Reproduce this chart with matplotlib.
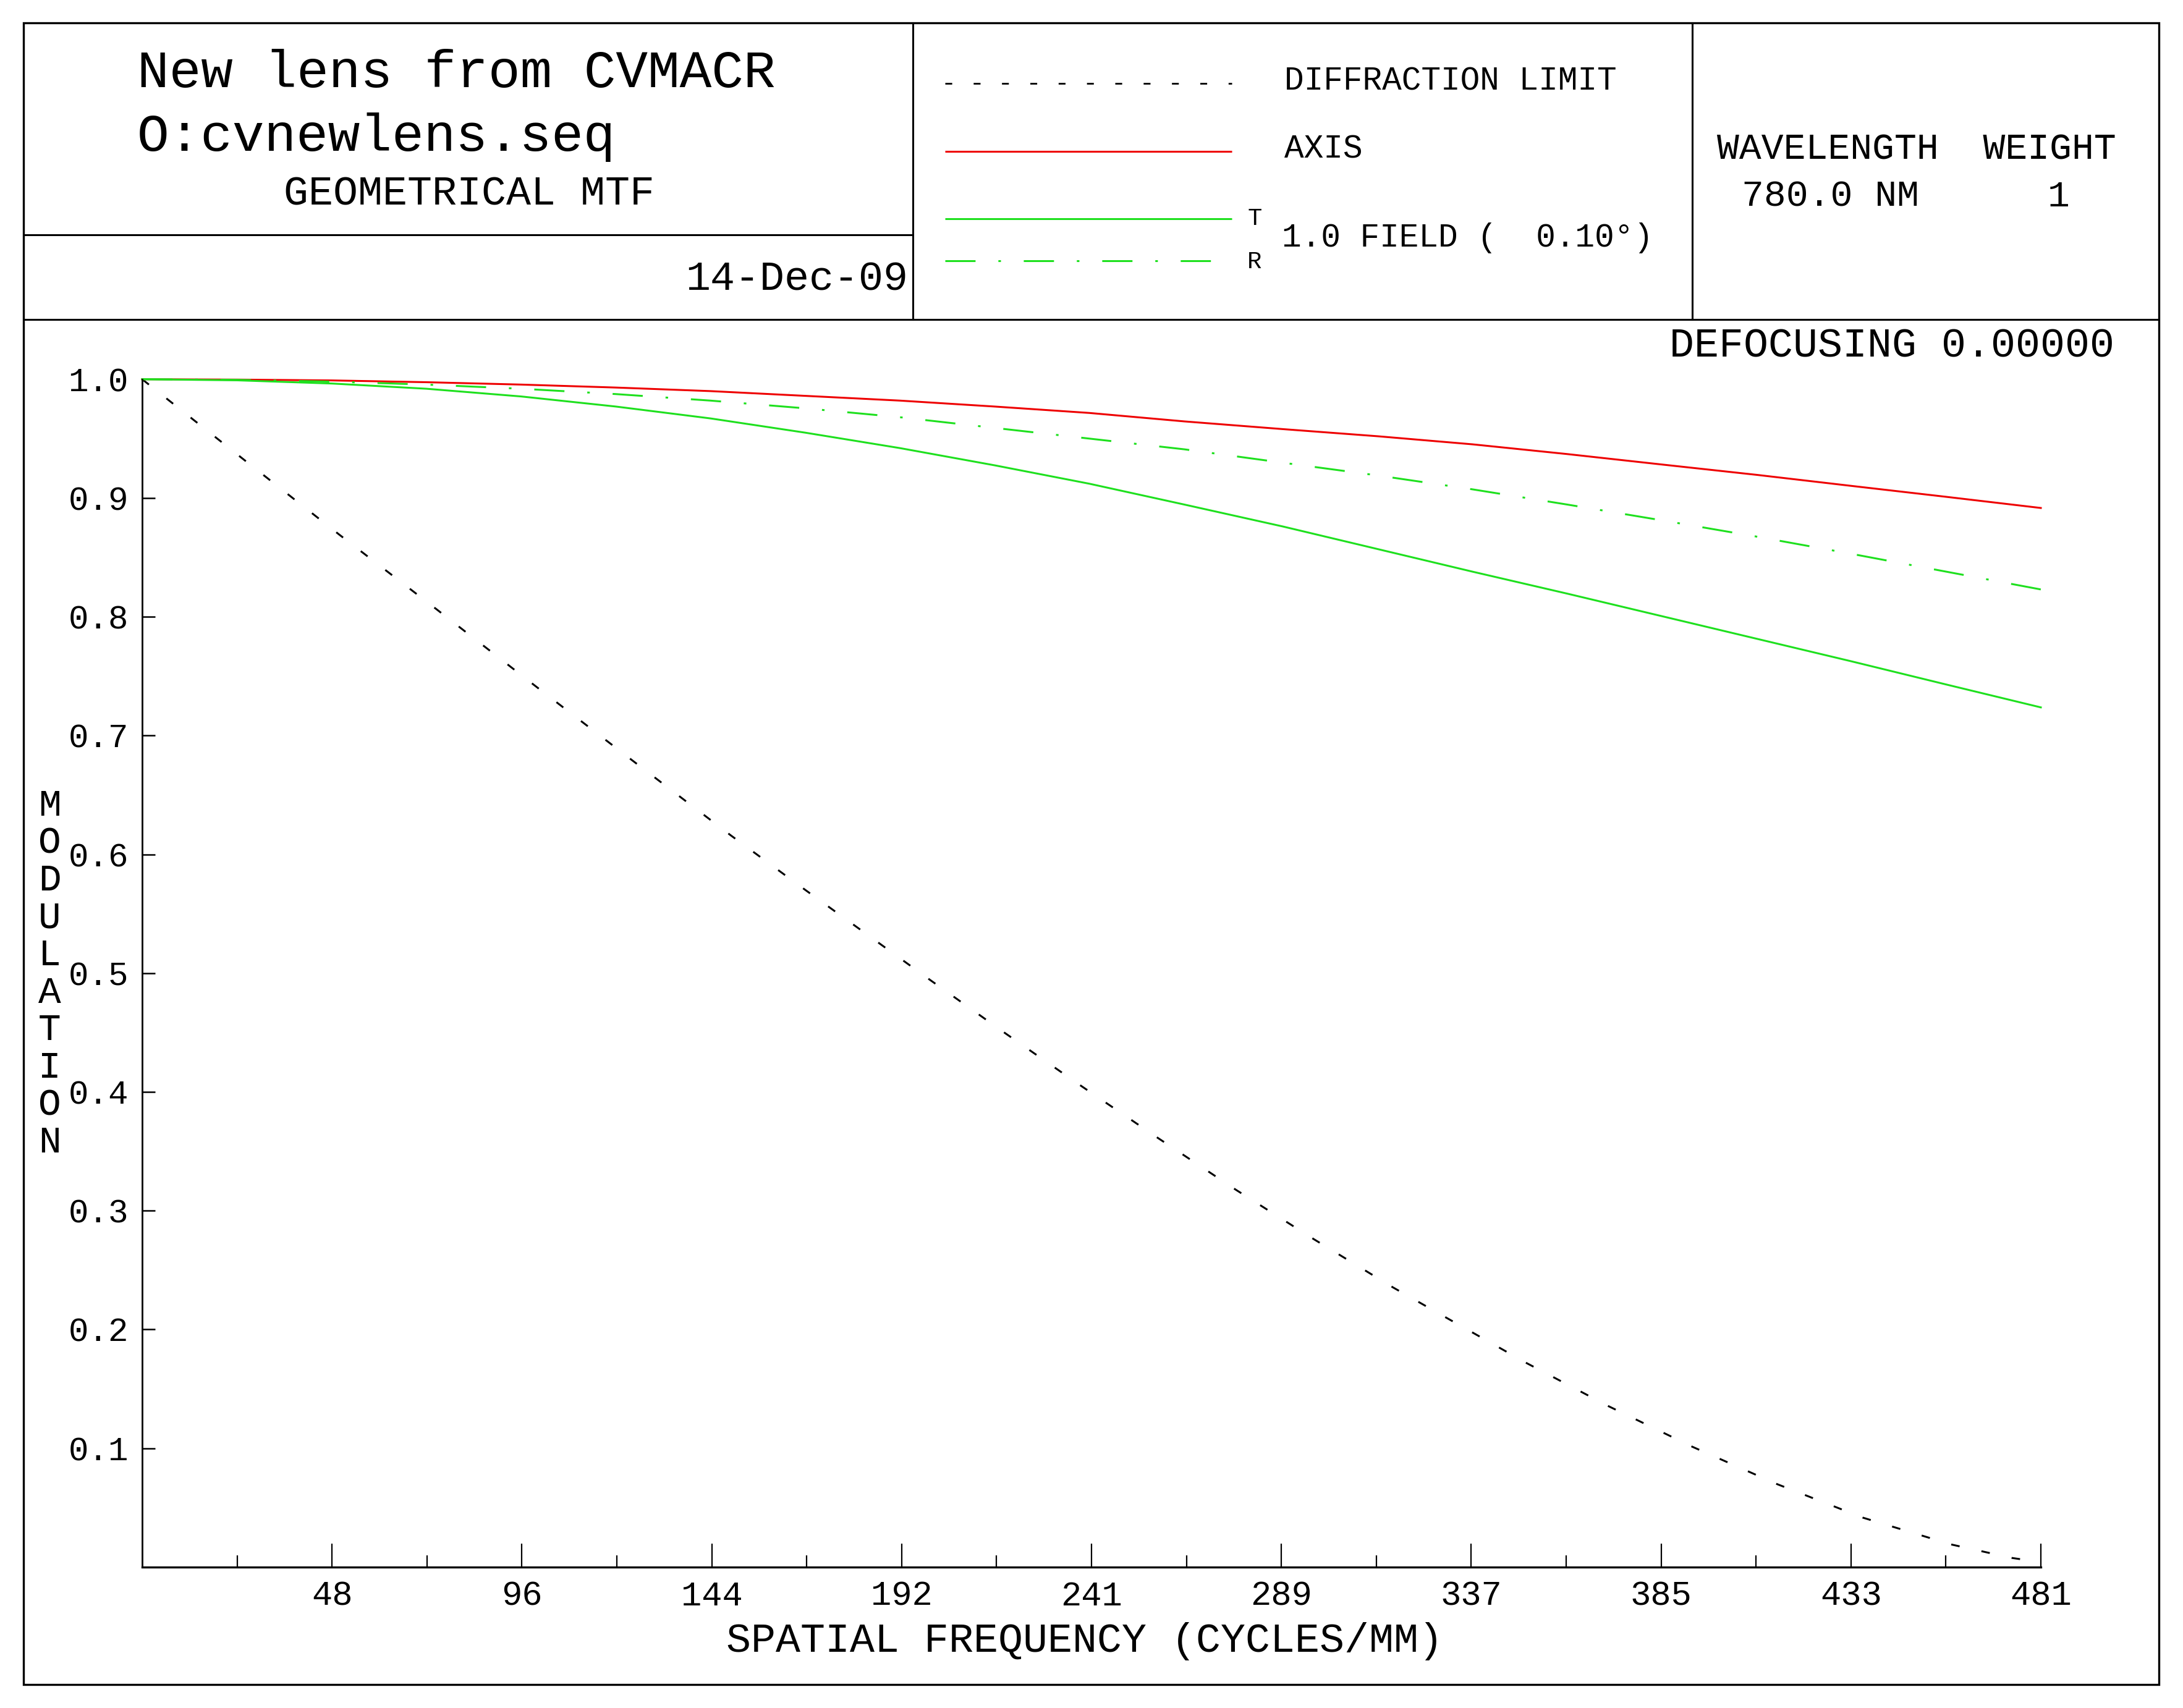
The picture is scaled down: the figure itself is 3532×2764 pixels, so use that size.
import matplotlib
matplotlib.use('Agg')
import matplotlib.pyplot as plt
from matplotlib.lines import Line2D
from matplotlib.patches import Rectangle

plt.rcParams['font.family'] = ['Liberation Mono', 'DejaVu Sans Mono']
plt.rcParams['lines.scale_dashes'] = False

W, H = 3532, 2764
DPI = 200

# diffraction limit
diff_freq = [0, 25.5, 50, 74.7, 99.5, 124.2, 149.1, 168, 199.7, 218.8, 238.1, 257.4,
             277.1, 296.8, 316.8, 330.3, 350.8, 371.5, 392.7, 414.2, 435.9, 458.3, 473.6, 481]
diff_mtf = [1.0, 0.933, 0.869, 0.806, 0.742, 0.679, 0.616, 0.570, 0.494, 0.449, 0.4045, 0.361,
            0.3175, 0.276, 0.2355, 0.210, 0.1715, 0.1353, 0.1012, 0.0697, 0.0415, 0.0189, 0.0076, 0.004]

# geometrical MTF curves (cycles/mm)
freq = [0, 24, 48, 72, 96, 120, 144, 168, 192, 216, 240, 264, 289, 313, 337, 361, 385, 409, 433, 457, 481]
axis_mtf = [1.0, 0.9997, 0.999, 0.9975, 0.9955, 0.993, 0.990, 0.986, 0.982, 0.977, 0.9716, 0.9645,
            0.958, 0.952, 0.9452, 0.937, 0.9282, 0.9195, 0.9102, 0.901, 0.8916]
tan_mtf = [1.0, 0.9991, 0.9964, 0.992, 0.9855, 0.977, 0.967, 0.955, 0.942, 0.9275, 0.912, 0.8945,
           0.876, 0.857, 0.838, 0.8195, 0.8005, 0.7815, 0.7625, 0.743, 0.7237]
rad_mtf = [1.0, 0.9995, 0.998, 0.9955, 0.992, 0.9875, 0.982, 0.9755, 0.968, 0.959, 0.950, 0.941,
           0.9297, 0.919, 0.9073, 0.8945, 0.8812, 0.8675, 0.853, 0.838, 0.823]

x_major = [48.1 * k for k in range(1, 11)]
x_minor = [48.1 * k + 24.05 for k in range(0, 10)]
x_labels = ['48', '96', '144', '192', '241', '289', '337', '385', '433', '481']
y_major = [0.1, 0.2, 0.3, 0.4, 0.5, 0.6, 0.7, 0.8, 0.9, 1.0]
y_labels = ['0.1', '0.2', '0.3', '0.4', '0.5', '0.6', '0.7', '0.8', '0.9', '1.0']

RED = '#EE0000'
GREEN = '#1EE01E'
DIFF_DASH = (5, 13)
DASHDOT = (17.6, 13.3, 1.5, 13.3)


def fx(x):
    return x / W


def fy(y):
    return 1 - y / H


fig = plt.figure(figsize=(W / DPI, H / DPI), dpi=DPI)


def hline(x0, x1, y, lw=1.1, **kw):
    fig.add_artist(Line2D([fx(x0), fx(x1)], [fy(y), fy(y)], transform=fig.transFigure,
                          lw=lw, solid_capstyle='butt', **kw))


def vline(x, y0, y1, lw=1.1, **kw):
    fig.add_artist(Line2D([fx(x), fx(x)], [fy(y0), fy(y1)], transform=fig.transFigure,
                          lw=lw, color='black', **kw))


# frame and header boxes
fig.add_artist(Rectangle((fx(38), fy(2726)), fx(3493) - fx(38), fy(37) - fy(2726),
                         transform=fig.transFigure, fill=False, lw=1.2, ec='black'))
hline(38, 1477, 380, color='black')
hline(38, 3493, 517, color='black')
vline(1477, 37, 517)
vline(2738, 37, 517)

fig.text(fx(222), fy(141), 'New lens from CVMACR', fontsize=31, va='baseline')
fig.text(fx(222), fy(244), 'O:cvnewlens.seq', fontsize=31, va='baseline')
fig.text(fx(459), fy(332), 'GEOMETRICAL MTF', fontsize=24, va='baseline')
fig.text(fx(1469), fy(470), '14-Dec-09', fontsize=24, va='baseline', ha='right')

# legend
hline(1529, 1993, 135, lw=1.0, color='black', dashes=(4, 12.5))
fig.text(fx(2078), fy(146), 'DIFFRACTION LIMIT', fontsize=19, va='baseline')
hline(1529, 1993, 244.5, lw=1.1, color=RED)
fig.text(fx(2078), fy(256), 'AXIS', fontsize=19, va='baseline')
hline(1529, 1993, 354, lw=1.1, color=GREEN)
hline(1529, 1980, 422, lw=1.1, color=GREEN, dashes=DASHDOT)
fig.text(fx(2030), fy(354), 'T', fontsize=14, va='center', ha='center')
fig.text(fx(2030), fy(424), 'R', fontsize=14, va='center', ha='center')
fig.text(fx(2074), fy(399), '1.0 FIELD (  0.10\u00b0)', fontsize=19, va='baseline')

fig.text(fx(2778), fy(258), 'WAVELENGTH  WEIGHT', fontsize=21.5, va='baseline')
fig.text(fx(2818), fy(334), '780.0 NM', fontsize=21.5, va='baseline')
fig.text(fx(3331), fy(334), '1', fontsize=21.5, va='baseline', ha='center')
fig.text(fx(3421), fy(578), 'DEFOCUSING 0.00000', fontsize=24, va='baseline', ha='right')

# plot area
x0, x1, ytop, ybot = 230, 3302, 613.7, 2535.7
ax = fig.add_axes([fx(x0), fy(ybot), fx(x1) - fx(x0), fy(ytop) - fy(ybot)])
ax.plot(diff_freq, diff_mtf, color='black', lw=1.1, dashes=DIFF_DASH, clip_on=False)
ax.plot(freq, axis_mtf, color=RED, lw=1.1, clip_on=False)
ax.plot(freq, tan_mtf, color=GREEN, lw=1.1, clip_on=False)
ax.plot(freq, rad_mtf, color=GREEN, lw=1.1, dashes=DASHDOT, clip_on=False)

ax.set_xlim(0, 481)
ax.set_ylim(0, 1.0)
ax.set_facecolor('none')
for side in ['top', 'right']:
    ax.spines[side].set_visible(False)
ax.spines['left'].set_linewidth(1.0)
ax.spines['bottom'].set_linewidth(1.2)

ax.set_xticks(x_major)
ax.set_xticklabels(x_labels)
ax.set_xticks(x_minor, minor=True)
ax.set_yticks(y_major)
ax.set_yticklabels(y_labels)
ax.tick_params(axis='x', which='major', direction='in', length=13.7, width=0.8, pad=8, labelsize=20)
ax.tick_params(axis='x', which='minor', direction='in', length=6.8, width=0.8)
ax.tick_params(axis='y', which='major', direction='in', length=7.5, width=0.9, pad=8, labelsize=19.5)
ax.yaxis.get_major_ticks()[-1].tick1line.set_visible(False)

fig.text(fx(1755), fy(2656), 'SPATIAL FREQUENCY (CYCLES/MM)', fontsize=24, ha='center', va='center')

for i, ch in enumerate('MODULATION'):
    fig.text(fx(80), fy(1304.6 + i * 60.5), ch, fontsize=22, ha='center', va='center')

fig.savefig('out.png', dpi=DPI)
